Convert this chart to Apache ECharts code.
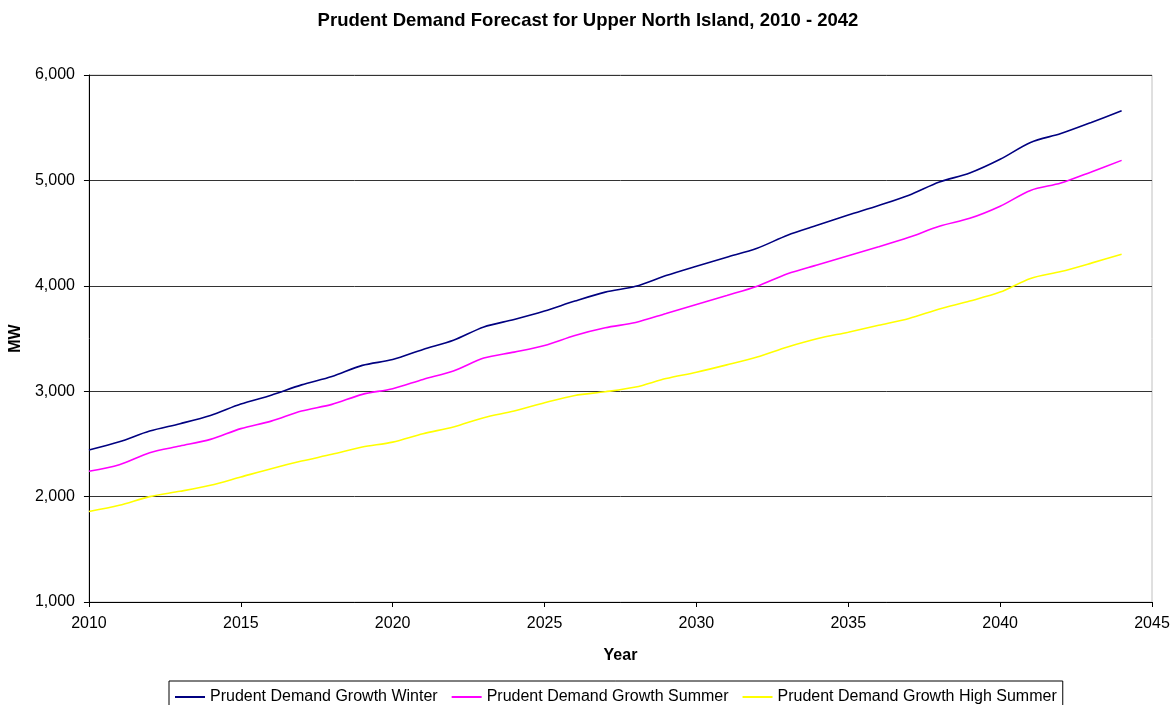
<!DOCTYPE html>
<html>
<head>
<meta charset="utf-8">
<script src="https://cdn.jsdelivr.net/npm/echarts@6/dist/echarts.min.js"></script>
<style>
  html, body { margin: 0; padding: 0; background: #fff; }
  #chart { width: 1176px; height: 705px; }
</style>
</head>
<body>
<div id="chart"></div>
<script>
const years = [
  2010, 2011, 2012, 2013, 2014, 2015, 2016, 2017, 2018, 2019,
  2020, 2021, 2022, 2023, 2024, 2025, 2026, 2027, 2028, 2029,
  2030, 2031, 2032, 2033, 2034, 2035, 2036, 2037, 2038, 2039,
  2040, 2041, 2042, 2043, 2044
];
const winter = [
  2442, 2520, 2622, 2692, 2770, 2878, 2962, 3060, 3140, 3245,
  3300, 3396, 3484, 3610, 3680, 3760, 3855, 3940, 3995, 4097,
  4186, 4271, 4356, 4480, 4576, 4671, 4762, 4860, 4985, 5070,
  5200, 5360, 5445, 5550, 5660
];
const summer = [
  2240, 2303, 2417, 2480, 2543, 2645, 2716, 2812, 2875, 2970,
  3024, 3112, 3192, 3314, 3371, 3434, 3529, 3602, 3652, 3737,
  3823, 3908, 3996, 4114, 4200, 4286, 4370, 4460, 4565, 4640,
  4755, 4905, 4975, 5080, 5190
];
const highSummer = [
  1858, 1917, 2000, 2050, 2107, 2186, 2265, 2337, 2401, 2470,
  2517, 2597, 2660, 2749, 2812, 2891, 2960, 2995, 3040, 3120,
  3180, 3250, 3325, 3420, 3500, 3560, 3625, 3690, 3780, 3855,
  3940, 4070, 4135, 4215, 4300
];
const seriesNames = [
  'Prudent Demand Growth Winter',
  'Prudent Demand Growth Summer',
  'Prudent Demand Growth High Summer'
];
const colors = ['#000080', '#ff00ff', '#ffff00'];

const font = 'Liberation Sans, Arial, sans-serif';

const chart = echarts.init(document.getElementById('chart'));

const series = [winter, summer, highSummer].map((values, index) => ({
  name: seriesNames[index],
  type: 'line',
  data: years.map((year, i) => [year, values[i]]),
  smooth: 0.3,
  showSymbol: false,
  lineStyle: { width: 1.6, color: colors[index] },
  itemStyle: { color: colors[index] },
  animation: false
}));

chart.setOption({
  animation: false,
  title: {
    text: 'Prudent Demand Forecast for Upper North Island, 2010 - 2042',
    left: 'center',
    top: 6,
    textStyle: { fontFamily: font, fontSize: 18.5, fontWeight: 'bold', color: '#000' }
  },
  grid: {
    left: 88,
    right: 24,
    top: 75,
    bottom: 103,
    show: true,
    borderColor: '#c0c0c0',
    borderWidth: 1
  },
  legend: {
    top: 681,
    left: 169,
    icon: 'rect',
    itemWidth: 30,
    itemHeight: 2,
    itemGap: 14,
    borderColor: '#000',
    borderWidth: 1,
    padding: [8, 6, 6, 6],
    textStyle: { fontFamily: font, fontSize: 16, color: '#000' },
    data: seriesNames
  },
  xAxis: {
    type: 'value',
    min: 2010,
    max: 2045,
    interval: 5,
    name: 'Year',
    nameLocation: 'middle',
    nameGap: 46,
    nameTextStyle: { fontFamily: font, fontSize: 16, fontWeight: 'bold', color: '#000' },
    axisLine: { lineStyle: { color: '#000', width: 1 } },
    axisTick: { show: true, length: 5, lineStyle: { color: '#000' } },
    axisLabel: {
      fontFamily: font,
      fontSize: 16,
      color: '#000',
      margin: 14,
      formatter: value => String(value)
    },
    splitLine: { show: false }
  },
  yAxis: {
    type: 'value',
    min: 1000,
    max: 6000,
    interval: 1000,
    name: 'MW',
    nameLocation: 'middle',
    nameRotate: 90,
    nameGap: 64,
    nameTextStyle: { fontFamily: font, fontSize: 16, fontWeight: 'bold', color: '#000' },
    axisLine: { show: true, lineStyle: { color: '#000', width: 1 } },
    axisTick: { show: true, length: 5, lineStyle: { color: '#000' } },
    axisLabel: {
      fontFamily: font,
      fontSize: 16,
      color: '#000',
      margin: 14,
      formatter: value => value.toLocaleString('en-US')
    },
    splitLine: { show: true, lineStyle: { color: '#333', width: 1 } }
  },
  series: series
});
</script>
</body>
</html>
